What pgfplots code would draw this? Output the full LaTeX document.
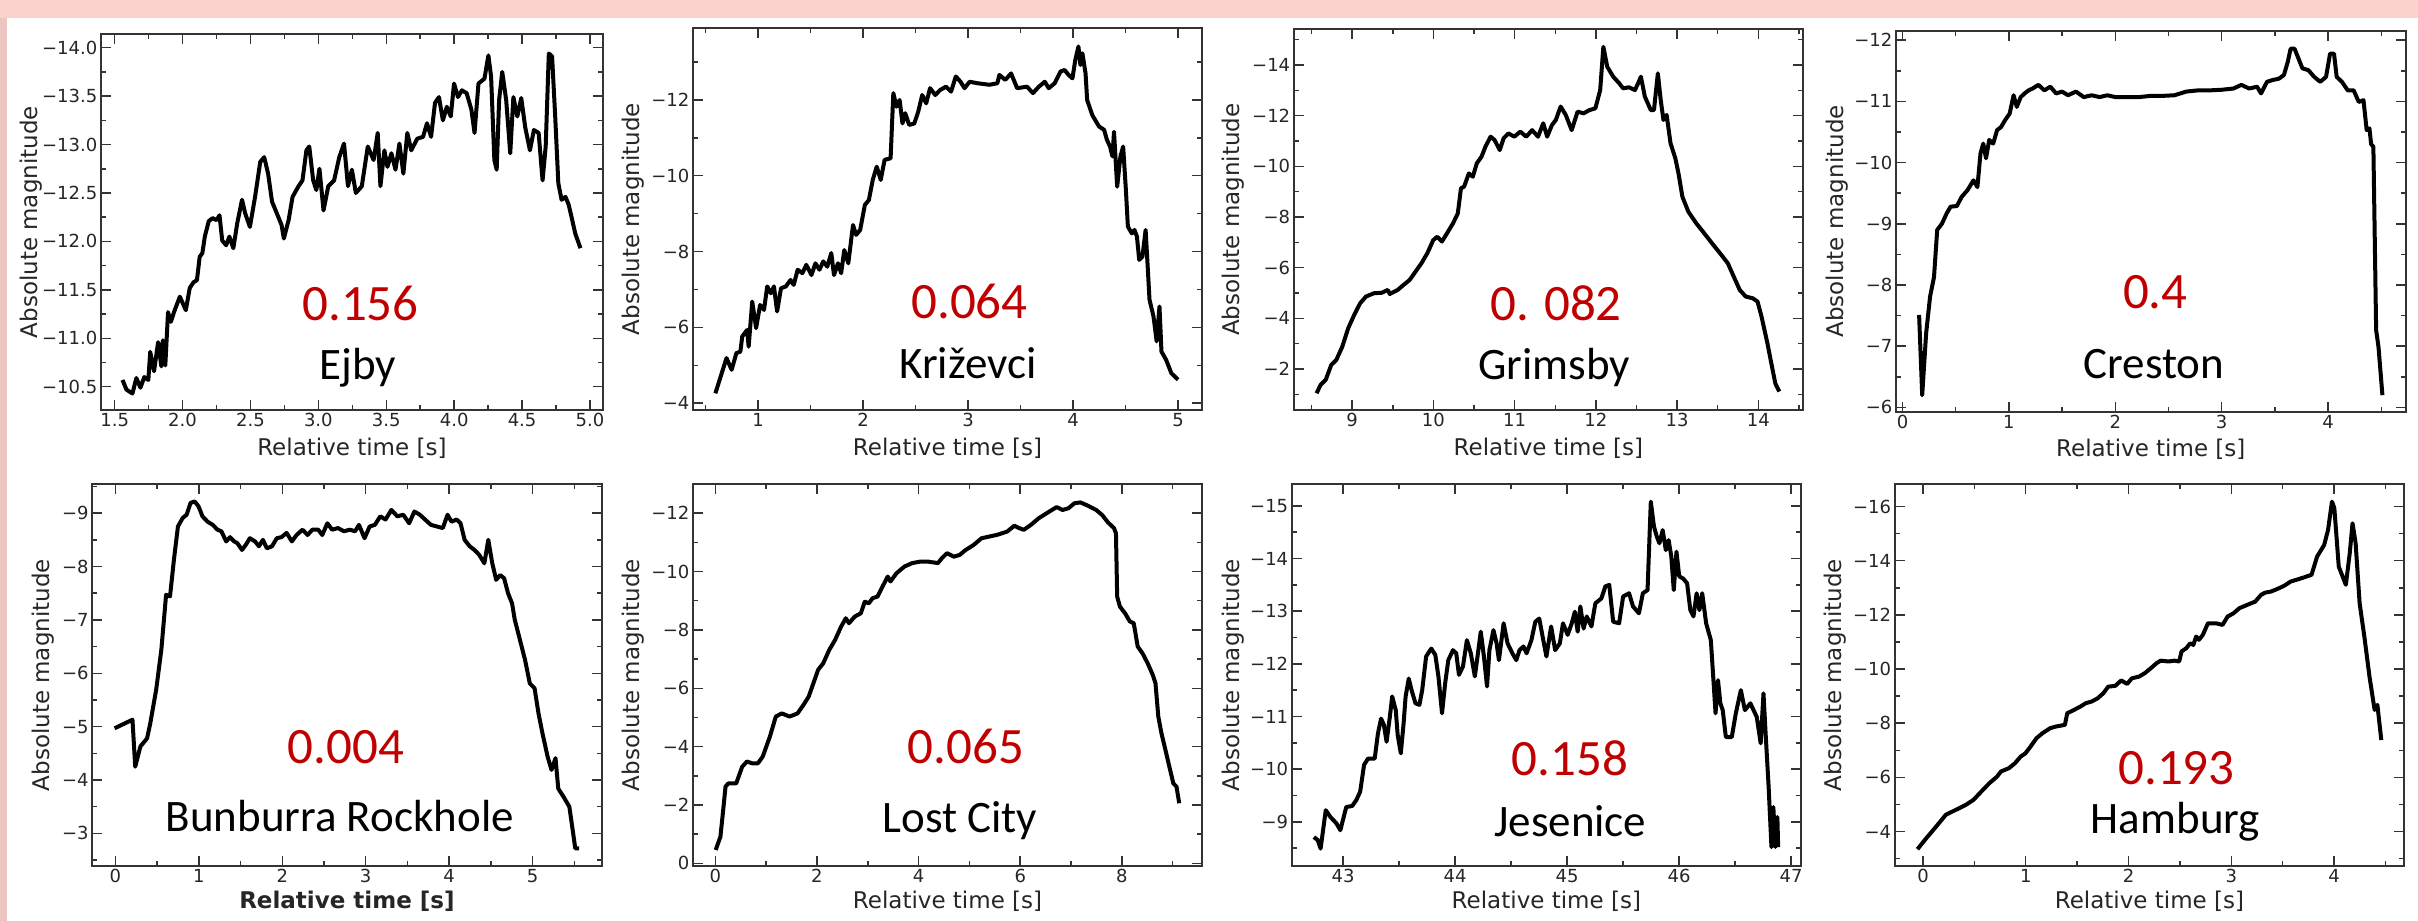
\documentclass[border=0pt]{standalone}
\usepackage{fontspec}
\setmainfont{DejaVu Sans}
\newfontfamily\carlito{Carlito}
\usepackage{pgfplots}
\pgfplotsset{compat=1.18}
\definecolor{pinktop}{RGB}{250,212,204}
\definecolor{pinkleft}{RGB}{238,198,193}
\definecolor{numred}{RGB}{192,0,0}
\definecolor{axgray}{RGB}{51,51,51}
\pgfplotsset{
  panel/.style={
    scale only axis, anchor=south west, y dir=reverse,
    tick align=inside, xtick pos=both, ytick pos=both,
    major tick length=10pt, minor tick length=5pt,
    tick style={line width=1.5pt, color=axgray},
    axis line style={line width=2pt, color=axgray},
    tick label style={font=\fontsize{18pt}{20pt}\selectfont, text=black!85},
    label style={font=\fontsize{23pt}{26pt}\selectfont, text=black!85},
    xlabel={Relative time [s]}, ylabel={Absolute magnitude},
  },
  curve/.style={black, line width=4pt, line join=round, no marks},
  xl/.style={xlabel style={at={(axis description cs:0.5,#1)}, anchor=center}},
  yl/.style={ylabel style={at={(axis description cs:#1,0.5)}, anchor=center}},
}
\newcommand{\val}[3]{\node[anchor=base, text=numred, inner sep=0pt, font=\carlito\fontsize{51pt}{55pt}\selectfont] at (axis description cs:#1,#2) {#3};}
\newcommand{\nam}[3]{\node[anchor=base, text=black, inner sep=0pt, font=\carlito\fontsize{45pt}{50pt}\selectfont] at (axis description cs:#1,#2) {#3};}
\begin{document}
\begin{tikzpicture}
\path[use as bounding box] (0pt,0pt) rectangle (2418pt,921pt);
\fill[white] (0pt,0pt) rectangle (2418pt,921pt);
\fill[pinktop] (0pt,903pt) rectangle (2418pt,921pt);
\fill[pinkleft] (0pt,0pt) rectangle (7pt,903pt);

% ---------- Ejby ----------
\begin{axis}[panel, at={(100.8pt,511pt)}, width=502.2pt, height=375.7pt,
  xmin=1.398, xmax=5.096, ymin=-14.138, ymax=-10.26,
  xtick={1.5,2.0,2.5,3.0,3.5,4.0,4.5,5.0}, xticklabels={1.5,2.0,2.5,3.0,3.5,4.0,4.5,5.0},
  minor xtick={1.75,2.25,2.75,3.25,3.75,4.25,4.75},
  ytick={-14,-13.5,-13,-12.5,-12,-11.5,-11,-10.5},
  yticklabels={−14.0,−13.5,−13.0,−12.5,−12.0,−11.5,−11.0,−10.5},
  minor ytick={-13.75,-13.25,-12.75,-12.25,-11.75,-11.25,-10.75},
  xl=-0.101, yl=-0.1378]
\addplot[curve] coordinates {(1.558,-10.57)(1.587,-10.47)(1.631,-10.43)(1.66,-10.59)(1.69,-10.49)(1.718,-10.60)(1.748,-10.57)(1.762,-10.86)(1.79,-10.66)(1.82,-10.96)(1.844,-10.71)(1.855,-10.98)(1.873,-10.72)(1.893,-11.27)(1.914,-11.17)(1.937,-11.27)(1.98,-11.43)(2.024,-11.29)(2.053,-11.52)(2.082,-11.58)(2.106,-11.60)(2.126,-11.84)(2.146,-11.88)(2.164,-12.05)(2.193,-12.21)(2.222,-12.24)(2.251,-12.22)(2.272,-12.27)(2.292,-12.01)(2.321,-11.96)(2.345,-12.05)(2.374,-11.93)(2.403,-12.19)(2.438,-12.43)(2.461,-12.29)(2.496,-12.15)(2.534,-12.46)(2.572,-12.82)(2.601,-12.87)(2.63,-12.70)(2.659,-12.41)(2.694,-12.29)(2.729,-12.17)(2.746,-12.03)(2.781,-12.22)(2.81,-12.46)(2.854,-12.57)(2.883,-12.63)(2.912,-12.94)(2.933,-12.98)(2.962,-12.63)(2.985,-12.53)(3.008,-12.75)(3.038,-12.32)(3.073,-12.57)(3.116,-12.63)(3.154,-12.87)(3.189,-13.01)(3.218,-12.57)(3.247,-12.74)(3.276,-12.50)(3.32,-12.57)(3.364,-12.98)(3.407,-12.84)(3.437,-13.12)(3.457,-12.57)(3.486,-12.94)(3.509,-12.77)(3.538,-12.91)(3.568,-12.74)(3.597,-13.01)(3.626,-12.70)(3.655,-13.12)(3.684,-12.94)(3.728,-13.06)(3.771,-13.08)(3.80,-13.22)(3.83,-13.08)(3.859,-13.43)(3.888,-13.49)(3.917,-13.25)(3.946,-13.39)(3.975,-13.29)(3.999,-13.63)(4.028,-13.49)(4.057,-13.56)(4.092,-13.53)(4.127,-13.36)(4.15,-13.12)(4.179,-13.63)(4.223,-13.68)(4.252,-13.92)(4.272,-13.70)(4.296,-12.84)(4.313,-12.74)(4.331,-13.46)(4.354,-13.75)(4.383,-13.46)(4.413,-12.91)(4.436,-13.49)(4.465,-13.29)(4.494,-13.48)(4.523,-13.18)(4.558,-12.94)(4.587,-13.15)(4.622,-13.12)(4.651,-12.63)(4.674,-12.98)(4.697,-13.94)(4.721,-13.91)(4.744,-13.29)(4.767,-12.60)(4.791,-12.43)(4.82,-12.46)(4.843,-12.38)(4.863,-12.26)(4.892,-12.08)(4.93,-11.93)};
\val{0.517}{0.238}{0.156}
\nam{0.512}{0.08}{Ejby}
\end{axis}

% ---------- Krizevci ----------
\begin{axis}[panel, at={(692.9pt,511pt)}, width=509.3pt, height=381.7pt,
  xmin=0.379, xmax=5.23, ymin=-13.89, ymax=-3.82,
  xtick={1,2,3,4,5}, xticklabels={1,2,3,4,5},
  minor xtick={0.5,1.5,2.5,3.5,4.5},
  ytick={-12,-10,-8,-6,-4}, yticklabels={−12,−10,−8,−6,−4},
  minor ytick={-13,-11,-9,-7,-5},
  xl=-0.0996, yl=-0.1164]
\addplot[curve] coordinates {(0.593,-4.26)(0.699,-5.19)(0.748,-4.88)(0.793,-5.32)(0.831,-5.36)(0.849,-5.76)(0.895,-5.93)(0.91,-5.49)(0.944,-6.68)(0.981,-5.98)(1.019,-6.59)(1.056,-6.46)(1.087,-7.08)(1.121,-6.90)(1.151,-7.08)(1.181,-6.42)(1.218,-7.03)(1.264,-7.08)(1.309,-7.25)(1.339,-7.12)(1.377,-7.52)(1.422,-7.43)(1.459,-7.65)(1.508,-7.38)(1.546,-7.69)(1.584,-7.52)(1.621,-7.74)(1.659,-7.60)(1.697,-7.96)(1.723,-7.38)(1.761,-7.69)(1.791,-7.43)(1.821,-8.04)(1.859,-7.69)(1.904,-8.70)(1.934,-8.44)(1.972,-8.57)(2.017,-9.23)(2.055,-9.36)(2.092,-9.89)(2.13,-10.24)(2.168,-9.89)(2.205,-10.42)(2.262,-10.46)(2.288,-12.18)(2.318,-11.82)(2.348,-12.0)(2.375,-11.38)(2.401,-11.65)(2.439,-11.34)(2.488,-11.38)(2.525,-11.69)(2.563,-12.13)(2.601,-11.91)(2.638,-12.31)(2.687,-12.13)(2.733,-12.26)(2.789,-12.35)(2.838,-12.22)(2.883,-12.62)(2.928,-12.48)(2.966,-12.31)(3.015,-12.48)(3.09,-12.44)(3.203,-12.40)(3.279,-12.44)(3.298,-12.66)(3.354,-12.53)(3.41,-12.70)(3.467,-12.31)(3.561,-12.35)(3.618,-12.18)(3.674,-12.35)(3.731,-12.48)(3.768,-12.31)(3.825,-12.44)(3.881,-12.75)(3.919,-12.79)(3.957,-12.66)(3.994,-12.57)(4.021,-13.05)(4.051,-13.41)(4.07,-12.92)(4.089,-13.23)(4.119,-12.70)(4.134,-12.0)(4.183,-11.60)(4.247,-11.30)(4.296,-11.21)(4.322,-10.95)(4.352,-10.77)(4.375,-10.51)(4.39,-11.16)(4.42,-9.71)(4.451,-10.51)(4.477,-10.77)(4.503,-9.63)(4.522,-8.66)(4.559,-8.48)(4.585,-8.57)(4.608,-8.40)(4.63,-7.78)(4.661,-7.87)(4.691,-8.57)(4.709,-7.69)(4.728,-6.73)(4.766,-6.29)(4.796,-5.63)(4.823,-6.55)(4.842,-5.36)(4.887,-5.14)(4.936,-4.79)(5.0,-4.62)};
\val{0.543}{0.24}{0.064}
\nam{0.54}{0.083}{Križevci}
\end{axis}

% ---------- Grimsby ----------
\begin{axis}[panel, at={(1293.7pt,511pt)}, width=509.3pt, height=380.7pt,
  xmin=8.28, xmax=14.55, ymin=-15.41, ymax=-0.38,
  xtick={9,10,11,12,13,14}, xticklabels={9,10,11,12,13,14},
  minor xtick={8.5,9.5,10.5,11.5,12.5,13.5,14.5},
  ytick={-14,-12,-10,-8,-6,-4,-2}, yticklabels={−14,−12,−10,−8,−6,−4,−2},
  minor ytick={-15,-13,-11,-9,-7,-5,-3,-1},
  xl=-0.0998, yl=-0.118]
\addplot[curve] coordinates {(8.562,-1.04)(8.61,-1.37)(8.674,-1.57)(8.742,-2.16)(8.805,-2.36)(8.878,-2.88)(8.951,-3.61)(9.024,-4.13)(9.097,-4.59)(9.17,-4.86)(9.268,-4.99)(9.365,-5.01)(9.438,-5.12)(9.463,-4.96)(9.56,-5.12)(9.633,-5.32)(9.706,-5.51)(9.779,-5.84)(9.852,-6.17)(9.925,-6.57)(9.998,-7.09)(10.047,-7.22)(10.105,-7.03)(10.168,-7.36)(10.241,-7.75)(10.30,-8.14)(10.339,-9.13)(10.378,-9.20)(10.436,-9.72)(10.485,-9.59)(10.534,-10.12)(10.592,-10.38)(10.641,-10.78)(10.704,-11.17)(10.753,-11.04)(10.816,-10.64)(10.865,-11.11)(10.923,-11.30)(10.996,-11.17)(11.069,-11.37)(11.143,-11.17)(11.215,-11.43)(11.288,-11.17)(11.352,-11.70)(11.40,-11.17)(11.459,-11.63)(11.507,-11.83)(11.566,-12.36)(11.629,-12.03)(11.702,-11.43)(11.775,-12.16)(11.848,-12.09)(11.921,-12.22)(11.994,-12.29)(12.053,-13.01)(12.092,-14.72)(12.14,-13.93)(12.213,-13.54)(12.287,-13.28)(12.335,-13.08)(12.408,-13.12)(12.481,-13.01)(12.52,-13.28)(12.554,-13.54)(12.603,-12.75)(12.676,-12.22)(12.715,-12.22)(12.763,-13.67)(12.798,-12.62)(12.832,-11.83)(12.871,-12.03)(12.919,-10.91)(12.978,-10.32)(13.017,-9.72)(13.065,-8.80)(13.138,-8.21)(13.236,-7.75)(13.333,-7.36)(13.43,-6.96)(13.528,-6.57)(13.625,-6.17)(13.698,-5.64)(13.771,-5.12)(13.844,-4.86)(13.932,-4.79)(13.99,-4.66)(14.039,-4.07)(14.112,-3.01)(14.16,-2.22)(14.209,-1.43)(14.258,-1.11)};
\val{0.515}{0.236}{0. 082}
\nam{0.511}{0.079}{Grimsby}
\end{axis}

% ---------- Creston ----------
\begin{axis}[panel, at={(1895.8pt,509.3pt)}, width=509.9pt, height=380.7pt,
  xmin=-0.063, xmax=4.73, ymin=-12.15, ymax=-5.93,
  xtick={0,1,2,3,4}, xticklabels={0,1,2,3,4},
  minor xtick={0.5,1.5,2.5,3.5,4.5},
  ytick={-12,-11,-10,-9,-8,-7,-6}, yticklabels={−12,−11,−10,−9,−8,−7,−6},
  minor ytick={-11.5,-10.5,-9.5,-8.5,-7.5,-6.5},
  xl=-0.098, yl=-0.1145]
\addplot[curve] coordinates {(0.156,-7.51)(0.185,-6.20)(0.222,-7.21)(0.259,-7.81)(0.296,-8.13)(0.326,-8.90)(0.37,-9.0)(0.415,-9.17)(0.452,-9.28)(0.511,-9.29)(0.556,-9.44)(0.611,-9.55)(0.667,-9.71)(0.704,-9.60)(0.733,-10.15)(0.759,-10.31)(0.785,-10.07)(0.815,-10.37)(0.852,-10.31)(0.889,-10.53)(0.926,-10.58)(0.963,-10.69)(1.007,-10.80)(1.044,-11.10)(1.074,-10.91)(1.111,-11.07)(1.148,-11.13)(1.185,-11.18)(1.222,-11.21)(1.278,-11.27)(1.333,-11.18)(1.389,-11.24)(1.444,-11.13)(1.50,-11.16)(1.556,-11.10)(1.63,-11.16)(1.704,-11.07)(1.778,-11.10)(1.852,-11.07)(1.926,-11.10)(2.0,-11.07)(2.111,-11.07)(2.222,-11.07)(2.333,-11.09)(2.444,-11.09)(2.556,-11.10)(2.667,-11.16)(2.778,-11.18)(2.889,-11.18)(3.0,-11.19)(3.111,-11.21)(3.185,-11.27)(3.259,-11.21)(3.333,-11.24)(3.37,-11.13)(3.426,-11.32)(3.481,-11.35)(3.537,-11.37)(3.585,-11.43)(3.622,-11.65)(3.648,-11.86)(3.685,-11.86)(3.722,-11.70)(3.759,-11.54)(3.815,-11.51)(3.87,-11.40)(3.926,-11.32)(3.981,-11.40)(4.019,-11.78)(4.056,-11.78)(4.081,-11.40)(4.13,-11.32)(4.185,-11.18)(4.241,-11.18)(4.289,-10.99)(4.333,-11.02)(4.363,-10.53)(4.389,-10.56)(4.405,-10.3)(4.426,-10.26)(4.452,-7.26)(4.474,-6.99)(4.511,-6.20)};
\val{0.509}{0.271}{0.4}
\nam{0.506}{0.0876}{Creston}
\end{axis}

% ---------- Bunburra Rockhole ----------
\begin{axis}[panel, at={(92.1pt,55pt)}, width=509.7pt, height=381.7pt,
  xmin=-0.28, xmax=5.83, ymin=-9.54, ymax=-2.39,
  xtick={0,1,2,3,4,5}, xticklabels={0,1,2,3,4,5},
  minor xtick={0.5,1.5,2.5,3.5,4.5,5.5},
  ytick={-9,-8,-7,-6,-5,-4,-3}, yticklabels={−9,−8,−7,−6,−5,−4,−3},
  minor ytick={-9.5,-8.5,-7.5,-6.5,-5.5,-4.5,-3.5,-2.5},
  xlabel={\bfseries Relative time [s]},
  xl=-0.0935, yl=-0.0953]
\addplot[curve] coordinates {(-0.01,-4.97)(0.204,-5.13)(0.237,-4.25)(0.299,-4.63)(0.379,-4.78)(0.417,-5.06)(0.488,-5.69)(0.55,-6.44)(0.607,-7.47)(0.654,-7.44)(0.701,-8.13)(0.749,-8.75)(0.806,-8.91)(0.853,-8.97)(0.9,-9.19)(0.948,-9.22)(0.995,-9.13)(1.043,-8.94)(1.104,-8.84)(1.166,-8.78)(1.223,-8.69)(1.27,-8.66)(1.327,-8.47)(1.374,-8.55)(1.422,-8.47)(1.46,-8.44)(1.517,-8.31)(1.564,-8.41)(1.611,-8.53)(1.673,-8.47)(1.72,-8.38)(1.768,-8.5)(1.815,-8.34)(1.877,-8.38)(1.934,-8.53)(1.99,-8.55)(2.052,-8.63)(2.114,-8.47)(2.171,-8.59)(2.242,-8.69)(2.303,-8.59)(2.36,-8.69)(2.431,-8.69)(2.479,-8.59)(2.54,-8.81)(2.597,-8.69)(2.668,-8.72)(2.739,-8.66)(2.81,-8.69)(2.872,-8.66)(2.919,-8.78)(2.986,-8.53)(3.047,-8.75)(3.109,-8.78)(3.175,-8.94)(3.237,-8.88)(3.308,-9.06)(3.379,-8.94)(3.45,-8.97)(3.521,-8.81)(3.583,-9.03)(3.649,-8.97)(3.711,-8.88)(3.782,-8.78)(3.853,-8.75)(3.924,-8.72)(3.981,-8.97)(4.028,-8.84)(4.09,-8.88)(4.137,-8.81)(4.185,-8.5)(4.246,-8.38)(4.303,-8.31)(4.36,-8.22)(4.422,-8.06)(4.469,-8.5)(4.517,-8.06)(4.564,-7.75)(4.611,-7.84)(4.659,-7.78)(4.706,-7.5)(4.754,-7.31)(4.787,-7.0)(4.848,-6.63)(4.91,-6.25)(4.967,-5.81)(5.024,-5.72)(5.071,-5.25)(5.118,-4.88)(5.18,-4.44)(5.227,-4.19)(5.275,-4.41)(5.308,-3.84)(5.37,-3.69)(5.441,-3.5)(5.512,-2.72)(5.559,-2.72)};
\val{0.498}{0.269}{0.004}
\nam{0.486}{0.09}{Bunburra Rockhole}
\end{axis}

% ---------- Lost City ----------
\begin{axis}[panel, at={(692.9pt,55.3pt)}, width=509.3pt, height=381.4pt,
  xmin=-0.44, xmax=9.58, ymin=-12.99, ymax=0.08,
  xtick={0,2,4,6,8}, xticklabels={0,2,4,6,8},
  minor xtick={1,3,5,7,9},
  ytick={-12,-10,-8,-6,-4,-2,0}, yticklabels={−12,−10,−8,−6,−4,−2,0},
  minor ytick={-11,-9,-7,-5,-3,-1},
  xl=-0.0935, yl=-0.1164]
\addplot[curve] coordinates {(0.008,-0.46)(0.101,-0.91)(0.156,-1.83)(0.202,-2.63)(0.257,-2.74)(0.412,-2.74)(0.529,-3.31)(0.623,-3.49)(0.724,-3.43)(0.84,-3.43)(0.934,-3.66)(1.074,-4.34)(1.191,-5.03)(1.307,-5.14)(1.463,-5.03)(1.619,-5.14)(1.735,-5.43)(1.837,-5.71)(1.93,-6.17)(2.023,-6.63)(2.125,-6.86)(2.241,-7.31)(2.358,-7.66)(2.475,-8.11)(2.568,-8.4)(2.63,-8.23)(2.747,-8.46)(2.864,-8.57)(2.942,-8.97)(3.019,-8.91)(3.097,-9.09)(3.191,-9.14)(3.292,-9.49)(3.393,-9.83)(3.447,-9.66)(3.564,-9.94)(3.72,-10.17)(3.875,-10.29)(4.031,-10.34)(4.187,-10.34)(4.381,-10.29)(4.459,-10.46)(4.56,-10.63)(4.693,-10.51)(4.809,-10.57)(4.926,-10.74)(5.082,-10.91)(5.237,-11.14)(5.393,-11.2)(5.549,-11.26)(5.743,-11.37)(5.883,-11.57)(5.977,-11.49)(6.07,-11.43)(6.21,-11.6)(6.366,-11.83)(6.521,-12.0)(6.716,-12.21)(6.833,-12.11)(6.949,-12.17)(7.066,-12.34)(7.183,-12.37)(7.339,-12.25)(7.494,-12.11)(7.611,-11.94)(7.728,-11.68)(7.844,-11.49)(7.883,-11.31)(7.907,-9.14)(7.961,-8.8)(8.062,-8.57)(8.156,-8.29)(8.233,-8.23)(8.311,-7.43)(8.405,-7.2)(8.506,-6.86)(8.607,-6.46)(8.661,-6.17)(8.716,-5.03)(8.778,-4.46)(8.856,-3.89)(8.934,-3.31)(9.012,-2.74)(9.074,-2.63)(9.128,-2.06)};
\val{0.536}{0.268}{0.065}
\nam{0.524}{0.087}{Lost City}
\end{axis}

% ---------- Jesenice ----------
\begin{axis}[panel, at={(1291.7pt,55pt)}, width=509.3pt, height=381.7pt,
  xmin=42.541, xmax=47.088, ymin=-15.41, ymax=-8.16,
  xtick={43,44,45,46,47}, xticklabels={43,44,45,46,47},
  minor xtick={43.5,44.5,45.5,46.5},
  ytick={-15,-14,-13,-12,-11,-10,-9}, yticklabels={−15,−14,−13,−12,−11,−10,−9},
  minor ytick={-14.5,-13.5,-12.5,-11.5,-10.5,-9.5,-8.5},
  xl=-0.0935, yl=-0.114]
\addplot[curve] coordinates {(42.739,-8.71)(42.774,-8.65)(42.799,-8.49)(42.845,-9.22)(42.887,-9.09)(42.94,-8.97)(42.975,-8.84)(43.028,-9.28)(43.081,-9.30)(43.117,-9.41)(43.152,-9.57)(43.187,-10.08)(43.222,-10.2)(43.282,-10.2)(43.311,-10.68)(43.339,-10.96)(43.364,-10.84)(43.388,-10.52)(43.417,-10.99)(43.438,-11.38)(43.47,-11.12)(43.487,-10.65)(43.515,-10.30)(43.54,-10.87)(43.558,-11.38)(43.586,-11.72)(43.611,-11.50)(43.646,-11.25)(43.681,-11.22)(43.706,-11.50)(43.741,-12.14)(43.787,-12.29)(43.823,-12.17)(43.851,-11.76)(43.883,-11.06)(43.911,-11.63)(43.939,-12.07)(43.981,-12.26)(44.01,-12.2)(44.034,-11.79)(44.07,-11.95)(44.105,-12.45)(44.14,-12.2)(44.176,-11.76)(44.2,-12.14)(44.229,-12.61)(44.257,-12.14)(44.285,-11.57)(44.306,-12.26)(44.342,-12.64)(44.37,-12.39)(44.391,-12.07)(44.433,-12.77)(44.468,-12.39)(44.511,-12.2)(44.546,-12.07)(44.575,-12.26)(44.61,-12.33)(44.638,-12.2)(44.681,-12.45)(44.716,-12.80)(44.751,-12.86)(44.787,-12.45)(44.815,-12.14)(44.857,-12.71)(44.893,-12.26)(44.935,-12.39)(44.963,-12.77)(45.005,-12.55)(45.041,-12.77)(45.069,-12.99)(45.094,-12.61)(45.118,-13.09)(45.147,-12.67)(45.175,-12.9)(45.217,-12.71)(45.252,-13.15)(45.305,-13.24)(45.341,-13.47)(45.376,-13.5)(45.411,-12.8)(45.464,-12.77)(45.5,-13.28)(45.553,-13.34)(45.588,-13.09)(45.641,-12.96)(45.676,-13.34)(45.718,-13.40)(45.729,-14.04)(45.747,-15.08)(45.775,-14.61)(45.8,-14.42)(45.824,-14.29)(45.853,-14.54)(45.881,-14.16)(45.906,-14.35)(45.93,-14.04)(45.952,-13.4)(45.976,-14.13)(46.001,-13.66)(46.036,-13.62)(46.071,-13.53)(46.1,-13.02)(46.128,-12.9)(46.156,-13.34)(46.181,-13.02)(46.206,-13.34)(46.241,-12.77)(46.283,-12.45)(46.304,-11.76)(46.325,-11.06)(46.347,-11.69)(46.368,-11.25)(46.389,-11.12)(46.417,-10.61)(46.47,-10.61)(46.506,-11.06)(46.551,-11.50)(46.587,-11.12)(46.636,-11.25)(46.693,-10.99)(46.728,-10.49)(46.753,-11.44)(46.772,-10.68)(46.799,-9.66)(46.824,-8.52)(46.841,-9.28)(46.859,-8.52)(46.877,-9.09)(46.884,-8.52)};
\val{0.546}{0.236}{0.158}
\nam{0.547}{0.078}{Jesenice}
\end{axis}

% ---------- Hamburg ----------
\begin{axis}[panel, at={(1894.6pt,55pt)}, width=509.6pt, height=381.7pt,
  xmin=-0.276, xmax=4.683, ymin=-16.82, ymax=-2.73,
  xtick={0,1,2,3,4}, xticklabels={0,1,2,3,4},
  minor xtick={0.5,1.5,2.5,3.5,4.5},
  ytick={-16,-14,-12,-10,-8,-6,-4}, yticklabels={−16,−14,−12,−10,−8,−6,−4},
  minor ytick={-15,-13,-11,-9,-7,-5,-3},
  xl=-0.0935, yl=-0.116]
\addplot[curve] coordinates {(-0.054,-3.35)(0.031,-3.75)(0.127,-4.18)(0.222,-4.62)(0.318,-4.8)(0.414,-4.98)(0.491,-5.17)(0.568,-5.48)(0.644,-5.78)(0.721,-6.03)(0.759,-6.22)(0.836,-6.34)(0.894,-6.52)(0.951,-6.77)(0.997,-6.89)(1.047,-7.14)(1.105,-7.45)(1.162,-7.63)(1.239,-7.82)(1.296,-7.88)(1.381,-7.94)(1.404,-8.37)(1.469,-8.49)(1.534,-8.62)(1.584,-8.74)(1.641,-8.80)(1.699,-8.92)(1.756,-9.11)(1.802,-9.35)(1.871,-9.38)(1.929,-9.58)(1.987,-9.45)(2.033,-9.66)(2.102,-9.72)(2.159,-9.85)(2.217,-10.03)(2.274,-10.22)(2.313,-10.31)(2.389,-10.28)(2.447,-10.31)(2.493,-10.28)(2.516,-10.65)(2.562,-10.77)(2.60,-10.95)(2.631,-10.89)(2.658,-11.2)(2.685,-11.08)(2.723,-11.26)(2.773,-11.69)(2.85,-11.69)(2.915,-11.63)(2.965,-11.94)(3.022,-12.06)(3.08,-12.25)(3.156,-12.37)(3.233,-12.49)(3.29,-12.74)(3.329,-12.82)(3.386,-12.86)(3.444,-12.95)(3.513,-13.07)(3.578,-13.23)(3.655,-13.32)(3.712,-13.39)(3.781,-13.48)(3.835,-14.15)(3.904,-14.58)(3.942,-15.14)(3.98,-16.18)(4.003,-15.94)(4.046,-13.78)(4.115,-13.11)(4.153,-14.28)(4.18,-15.38)(4.21,-14.65)(4.249,-12.43)(4.295,-11.2)(4.345,-9.72)(4.395,-8.49)(4.422,-8.68)(4.46,-7.38)};
\val{0.553}{0.213}{0.193}
\nam{0.551}{0.086}{Hamburg}
\end{axis}
\end{tikzpicture}
\end{document}
